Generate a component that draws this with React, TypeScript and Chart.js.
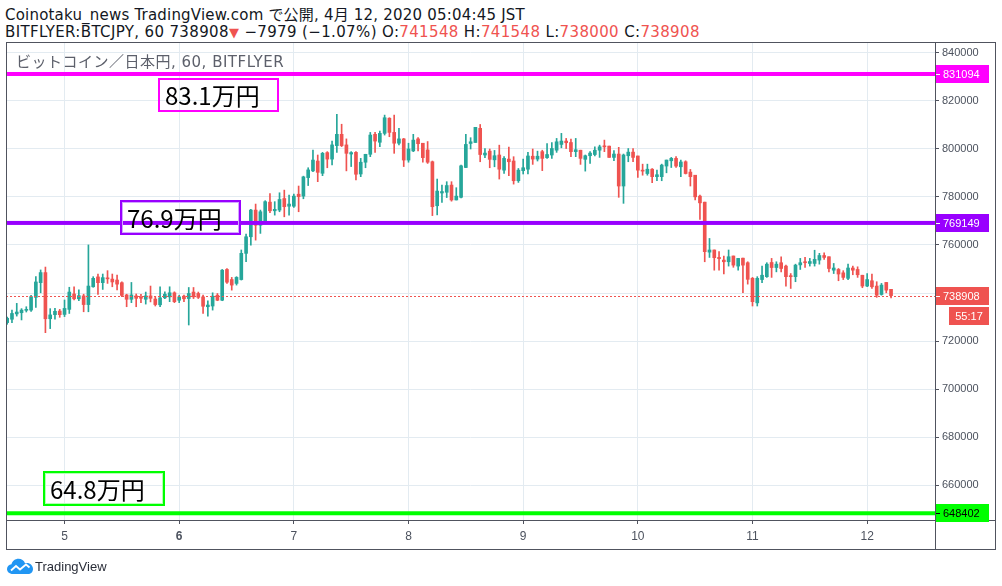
import React, { useEffect, useRef } from "react";
import { Chart, registerables } from "chart.js";

Chart.register(...registerables);

// Hourly candles, prices in thousands of JPY. First candle: Apr 4 12:00 JST (hour -12 relative to Apr 5 00:00).
const startHour = -12;

const opens = [
  727.7, 729.1, 731.3, 731.8, 732.8, 732.9, 738.2, 744.3, 748.5, 729.3, 731.0, 732.5,
  731.1, 733.2, 739.6, 737.6, 738.8, 735.2, 742.6, 746.7, 744.3, 746.2, 745.8, 745.4,
  744.3, 739.2, 737.4, 738.8, 738.2, 737.4, 738.8, 737.5, 735.1, 738.0, 738.4, 740.1,
  737.0, 738.7, 737.7, 740.4, 739.8, 738.4, 734.3, 734.6, 739.1, 737.0, 749.8, 745.6,
  744.0, 745.6, 756.5, 763.4, 774.5, 768.2, 769.2, 777.8, 774.2, 774.5, 779.3, 776.1,
  776.1, 781.1, 780.3, 788.0, 790.8, 794.9, 789.8, 798.4, 795.7, 801.3, 806.0, 801.6,
  797.8, 798.5, 789.5, 794.4, 797.7, 806.0, 802.7, 806.4, 812.7, 806.8, 802.3, 804.1,
  795.3, 799.1, 804.1, 802.3, 799.5, 794.6, 776.3, 781.6, 781.9, 784.9, 778.7, 779.8,
  792.2, 802.2, 802.6, 808.5, 797.4, 799.0, 795.4, 797.4, 791.1, 795.7, 794.9, 786.7,
  790.9, 791.5, 796.9, 795.7, 798.8, 796.3, 797.4, 799.4, 801.8, 803.2, 802.6, 798.8,
  799.4, 795.6, 797.1, 797.6, 799.4, 801.1, 801.1, 796.4, 797.8, 784.5, 797.1, 798.6,
  797.0, 791.1, 789.7, 791.5, 788.4, 788.4, 792.8, 795.0, 796.0, 792.5, 794.6, 790.3,
  789.0, 780.3, 777.8, 757.0, 757.9, 754.8, 753.7, 753.0, 755.4, 751.2, 754.5, 752.6,
  746.1, 735.9, 745.6, 746.8, 752.7, 750.6, 752.6, 751.2, 747.0, 746.8, 751.7, 752.9,
  752.3, 752.3, 753.7, 755.6, 755.1, 749.5, 749.8, 748.4, 746.1, 750.4, 749.8, 747.4,
  742.9, 745.1, 742.9, 739.4, 744.4, 741.548,
];

const highs = [
  730.0, 732.9, 735.7, 733.5, 734.3, 739.0, 746.8, 749.6, 750.8, 733.5, 733.6, 733.2,
  737.1, 742.4, 742.6, 741.3, 739.5, 760.0, 746.8, 747.9, 747.9, 749.3, 747.9, 747.5,
  744.7, 739.5, 744.4, 739.6, 739.5, 740.4, 742.9, 738.5, 742.6, 740.5, 742.6, 740.5,
  739.1, 739.1, 742.3, 742.3, 740.4, 739.1, 736.8, 740.1, 739.8, 749.8, 750.2, 746.5,
  746.8, 757.9, 764.5, 774.8, 777.0, 774.5, 778.4, 781.4, 778.0, 781.7, 782.8, 780.7,
  781.1, 784.5, 788.6, 792.1, 799.5, 797.4, 798.5, 798.8, 803.2, 814.3, 810.2, 804.1,
  798.8, 798.8, 796.0, 797.7, 806.8, 806.8, 807.4, 814.0, 812.9, 814.0, 808.5, 804.3,
  802.3, 806.0, 804.6, 802.3, 803.0, 794.9, 787.4, 784.9, 786.3, 786.3, 783.8, 793.2,
  806.0, 804.6, 808.9, 810.1, 800.1, 799.9, 799.3, 801.5, 796.7, 800.7, 796.7, 791.8,
  795.7, 798.5, 799.9, 799.0, 799.4, 802.2, 802.6, 804.3, 806.4, 804.3, 804.0, 804.3,
  799.4, 797.4, 798.8, 800.8, 801.5, 803.6, 801.1, 799.2, 800.6, 797.8, 800.1, 800.1,
  797.0, 793.6, 793.6, 791.8, 791.1, 793.6, 795.3, 796.4, 796.7, 795.3, 795.0, 791.4,
  789.0, 780.7, 777.8, 762.7, 757.9, 757.2, 755.4, 757.9, 755.4, 754.4, 754.5, 753.0,
  746.5, 746.8, 751.2, 752.6, 754.4, 753.0, 755.1, 751.6, 748.1, 752.0, 754.4, 754.8,
  754.4, 757.8, 756.5, 756.7, 755.1, 752.3, 750.2, 749.3, 752.0, 751.2, 750.9, 747.4,
  748.1, 747.9, 744.7, 744.0, 744.4, 741.548,
];

const lows = [
  727.0, 727.7, 730.4, 728.8, 732.1, 732.4, 734.0, 740.1, 723.5, 725.2, 729.1, 729.9,
  730.2, 731.5, 737.1, 736.8, 732.2, 732.2, 742.4, 739.4, 741.5, 744.0, 742.6, 741.3,
  738.5, 734.3, 736.0, 734.3, 736.0, 735.4, 736.3, 734.6, 734.3, 737.7, 736.4, 736.0,
  736.0, 736.4, 726.7, 737.7, 737.7, 731.5, 730.4, 732.9, 736.8, 736.8, 744.0, 741.2,
  743.3, 745.4, 753.0, 759.9, 762.0, 764.8, 768.9, 773.4, 772.4, 773.8, 771.7, 772.4,
  775.6, 773.8, 779.2, 784.7, 790.5, 786.3, 788.8, 792.1, 793.3, 798.5, 800.9, 790.8,
  792.6, 787.0, 788.4, 792.1, 796.7, 798.5, 800.9, 805.7, 805.0, 798.1, 801.6, 792.6,
  794.4, 798.8, 799.1, 794.4, 793.9, 772.2, 772.5, 777.7, 779.7, 778.2, 778.7, 779.6,
  792.1, 799.9, 802.6, 794.6, 796.3, 792.1, 792.5, 787.4, 789.7, 788.8, 785.3, 786.0,
  789.5, 789.5, 793.5, 794.9, 790.9, 796.0, 796.0, 798.5, 800.4, 800.1, 796.7, 796.7,
  793.5, 790.7, 793.9, 797.0, 796.4, 798.8, 796.4, 795.0, 779.8, 777.3, 794.6, 794.6,
  788.1, 789.0, 789.0, 785.9, 786.7, 786.7, 790.0, 792.2, 792.2, 788.4, 789.5, 784.5,
  778.7, 770.6, 753.0, 754.8, 749.5, 749.5, 747.9, 751.2, 750.7, 749.5, 740.1, 743.7,
  734.6, 734.6, 744.3, 746.5, 746.5, 748.8, 748.8, 742.9, 741.9, 744.7, 749.8, 750.6,
  751.2, 751.2, 752.0, 754.0, 748.8, 748.1, 745.1, 745.6, 745.6, 747.6, 746.5, 742.2,
  742.6, 741.9, 738.2, 739.1, 740.1, 738.0,
];

const closes = [
  729.5, 731.5, 732.1, 732.9, 733.2, 738.5, 744.6, 748.5, 729.3, 730.9, 732.4, 731.0,
  733.6, 740.4, 737.6, 738.9, 735.2, 742.9, 746.1, 744.3, 746.4, 745.9, 744.6, 743.7,
  739.0, 737.4, 739.2, 737.8, 737.8, 738.8, 737.8, 735.2, 738.0, 739.5, 740.1, 736.4,
  738.4, 737.6, 739.8, 738.4, 738.2, 734.5, 735.0, 738.7, 737.0, 749.5, 744.5, 743.3,
  746.5, 756.5, 763.4, 774.5, 768.2, 773.8, 778.0, 774.2, 774.8, 778.9, 775.9, 777.0,
  780.3, 780.1, 788.3, 791.2, 795.3, 790.2, 798.1, 795.7, 801.6, 806.0, 801.3, 798.1,
  798.4, 789.4, 794.4, 797.7, 805.7, 803.2, 806.4, 812.9, 806.8, 802.3, 804.1, 795.3,
  799.9, 803.6, 802.1, 796.3, 794.4, 775.9, 782.4, 782.2, 784.7, 778.7, 780.3, 792.9,
  801.8, 802.9, 808.9, 797.6, 798.2, 795.6, 797.1, 791.5, 796.0, 794.6, 786.7, 791.1,
  792.1, 797.0, 795.7, 796.9, 796.0, 797.6, 800.1, 802.9, 803.2, 802.5, 798.8, 799.6,
  796.0, 797.1, 798.2, 799.4, 800.8, 800.8, 796.4, 797.8, 784.5, 797.4, 798.6, 796.4,
  791.1, 790.7, 791.5, 788.4, 789.2, 793.2, 795.3, 796.0, 792.8, 794.5, 789.7, 788.4,
  780.0, 777.5, 757.2, 757.9, 754.7, 754.3, 753.0, 755.1, 751.6, 754.4, 751.6, 745.7,
  736.4, 746.1, 747.4, 752.0, 750.6, 752.0, 750.2, 746.8, 746.8, 751.6, 752.6, 752.6,
  753.1, 754.0, 755.6, 754.8, 750.2, 750.4, 747.9, 746.5, 750.4, 749.5, 747.6, 742.9,
  745.6, 742.6, 739.1, 743.3, 741.2, 738.908,
];

const dayTickHours = [0, 24, 48, 72, 96, 120, 144, 168];
const dayTickLabels = ["5", "6", "7", "8", "9", "10", "11", "12"];
const boldDayLabel = "6";
const priceTicks = [660, 680, 700, 720, 740, 760, 780, 800, 820, 840];

const levelValues = [831.094, 769.149, 648.402];
const levelLabels = ["831094", "769149", "648402"];
const levelColors = ["#ff00ff", "#9900ff", "#00ff00"];
const levelTextColors = ["#ffffff", "#ffffff", "#000000"];
const lastPrice = 738.908;
const lastPriceLabel = "738908";
const countdownLabel = "55:17";

const UP = "#26a69a";
const DOWN = "#ef5350";
const FRAME = "#50535e";
const GRID = "#e3ebf1";
const AXIS_TEXT = "#4c525e";
const AXIS_FONT = '"Liberation Sans", Arial, sans-serif';

const overlayPlugin = {
  id: "tvOverlay",
  afterDatasetsDraw(chart: any) {
    const { ctx, chartArea: a } = chart;
    const y = chart.scales.y;
    ctx.save();
    ctx.beginPath();
    ctx.rect(a.left, a.top, a.right - a.left, a.bottom - a.top);
    ctx.clip();
    const py = Math.round(y.getPixelForValue(lastPrice)) + 0.5;
    ctx.strokeStyle = DOWN;
    ctx.lineWidth = 1;
    ctx.setLineDash([2, 2]);
    ctx.beginPath();
    ctx.moveTo(a.left, py);
    ctx.lineTo(a.right, py);
    ctx.stroke();
    ctx.setLineDash([]);
    levelValues.forEach((v, i) => {
      const yy = y.getPixelForValue(v);
      ctx.fillStyle = levelColors[i];
      ctx.fillRect(a.left, yy - 2, a.right - a.left, 4);
    });
    ctx.restore();
  },
  afterDraw(chart: any) {
    const { ctx, chartArea: a, width, height } = chart;
    const y = chart.scales.y;
    ctx.save();
    ctx.strokeStyle = FRAME;
    ctx.lineWidth = 1;
    ctx.beginPath();
    ctx.moveTo(0.5, 0); ctx.lineTo(0.5, height);
    ctx.moveTo(width - 0.5, 0); ctx.lineTo(width - 0.5, height);
    ctx.moveTo(0, 0.5); ctx.lineTo(width, 0.5);
    ctx.moveTo(0, height - 0.5); ctx.lineTo(width, height - 0.5);
    ctx.moveTo(Math.round(a.right) + 0.5, 0); ctx.lineTo(Math.round(a.right) + 0.5, height);
    ctx.moveTo(0, Math.round(a.bottom) + 0.5); ctx.lineTo(width, Math.round(a.bottom) + 0.5);
    ctx.stroke();

    const boxLeft = Math.round(a.right) + 1;
    const boxW = 53;
    ctx.font = "11px " + AXIS_FONT;
    ctx.textBaseline = "middle";
    ctx.textAlign = "left";
    const drawTag = (v: number, label: string, bg: string, fg: string) => {
      const yy = Math.round(y.getPixelForValue(v));
      ctx.fillStyle = bg;
      ctx.fillRect(boxLeft, yy - 9, boxW, 18);
      ctx.fillStyle = fg;
      ctx.fillRect(boxLeft, yy, 4, 1);
      ctx.fillText(label, boxLeft + 7, yy + 1);
      return yy;
    };
    levelValues.forEach((v, i) => drawTag(v, levelLabels[i], levelColors[i], levelTextColors[i]));
    const py = drawTag(lastPrice, lastPriceLabel, DOWN, "#ffffff");
    ctx.fillStyle = DOWN;
    ctx.fillRect(boxLeft + 13, py + 11, boxW - 13, 18);
    ctx.fillStyle = "#ffffff";
    ctx.textAlign = "center";
    ctx.fillText(countdownLabel, boxLeft + 13 + (boxW - 13) / 2, py + 21);
    ctx.restore();
  },
};

export default function App() {
  const ref = useRef<HTMLCanvasElement>(null);

  useEffect(() => {
    const bodies = opens.map((o, i) => ({ x: startHour + i, y: [o, closes[i]] }));
    const wicks = lows.map((l, i) => ({ x: startHour + i, y: [l, highs[i]] }));
    const colors = opens.map((o, i) => (closes[i] >= o ? UP : DOWN));

    const chart = new Chart(ref.current as HTMLCanvasElement, {
      type: "bar",
      data: {
        datasets: [
          {
            data: bodies as any,
            backgroundColor: colors,
            barThickness: 3,
            grouped: false,
            minBarLength: 1,
            borderWidth: 0,
          } as any,
          {
            data: wicks as any,
            backgroundColor: colors,
            barThickness: 1,
            grouped: false,
            minBarLength: 1,
            borderWidth: 0,
          } as any,
        ],
      },
      options: {
        animation: false,
        responsive: true,
        maintainAspectRatio: false,
        events: [],
        layout: { padding: 0 },
        plugins: { legend: { display: false }, tooltip: { enabled: false } },
        scales: {
          x: {
            type: "linear",
            min: -12.25,
            max: 182.2,
            offset: false,
            afterBuildTicks: (scale: any) => {
              scale.ticks = dayTickHours.map((v) => ({ value: v }));
            },
            afterFit: (scale: any) => {
              scale.height = 30;
              scale.paddingLeft = 0;
              scale.paddingRight = 0;
            },
            grid: { color: GRID, tickColor: FRAME, tickLength: 4, drawOnChartArea: true, offset: false },
            border: { display: false },
            ticks: {
              autoSkip: false,
              maxRotation: 0,
              padding: 5,
              color: AXIS_TEXT,
              font: (ctx: any) => ({
                family: AXIS_FONT,
                size: 12,
                weight: dayTickLabels[ctx.index] === boldDayLabel ? "bold" : "normal",
              }),
              callback: (_v: any, i: number) => dayTickLabels[i],
            },
          },
          y: {
            type: "linear",
            position: "right",
            min: 645.6,
            max: 844.4,
            afterBuildTicks: (scale: any) => {
              scale.ticks = priceTicks.map((v) => ({ value: v }));
            },
            afterFit: (scale: any) => {
              scale.width = 61;
              scale.paddingTop = 0;
              scale.paddingBottom = 0;
            },
            grid: { color: GRID, tickColor: FRAME, tickLength: 4 },
            border: { display: false },
            ticks: {
              padding: 3,
              color: AXIS_TEXT,
              font: { family: AXIS_FONT, size: 11 },
              callback: (v: any) => String(Math.round(Number(v) * 1000)),
            },
          },
        },
      },
      plugins: [overlayPlugin],
    } as any);
    return () => chart.destroy();
  }, []);

  const headFont = '"DejaVu Sans", "Noto Sans CJK JP", sans-serif';
  const red = "#ef5350";
  const boxText: React.CSSProperties = {
    position: "absolute",
    boxSizing: "border-box",
    display: "flex",
    alignItems: "center",
    paddingLeft: 5,
    fontFamily: '"Noto Sans CJK JP", sans-serif',
    fontSize: 24,
    color: "#000",
    lineHeight: "30px",
    whiteSpace: "nowrap",
  };

  return (
    <div
      style={{
        position: "absolute",
        left: 0,
        top: 0,
        width: 1002,
        height: 586,
        background: "#ffffff",
        overflow: "hidden",
        fontFamily: headFont,
        color: "#131722",
      }}
    >
      <div
        style={{
          position: "absolute",
          left: 5,
          top: 7,
          fontSize: 15,
          lineHeight: "17px",
          letterSpacing: 0.2,
          whiteSpace: "pre",
        }}
      >
        Coinotaku_news TradingView.com で公開, 4月 12, 2020 05:04:45 JST
      </div>
      <div
        style={{
          position: "absolute",
          left: 5,
          top: 24,
          fontSize: 15,
          lineHeight: "17px",
          letterSpacing: 0.36,
          whiteSpace: "pre",
        }}
      >
        BITFLYER:BTCJPY, 60 738908<span style={{ color: red, fontSize: 13 }}>▼</span> −7979 (−1.07%) O:
        <span style={{ color: red }}>741548</span> H:<span style={{ color: red }}>741548</span> L:
        <span style={{ color: red }}>738000</span> C:<span style={{ color: red }}>738908</span>
      </div>

      <div style={{ position: "absolute", left: 6, top: 42, width: 990, height: 508 }}>
        <canvas ref={ref} />
      </div>

      <div
        style={{
          position: "absolute",
          left: 16,
          top: 54,
          fontSize: 15,
          lineHeight: "17px",
          letterSpacing: 0.5,
          color: "#5d606b",
          whiteSpace: "pre",
        }}
      >
        ビットコイン／日本円, 60, BITFLYER
      </div>

      <div style={{ ...boxText, left: 158, top: 78, width: 121, height: 34, border: "2px solid #ff00ff" }}>83.1万円</div>
      <div
        style={{
          ...boxText,
          left: 120,
          top: 200,
          width: 121,
          height: 35,
          border: "2px solid #9900ff",
          boxShadow: "inset 0 0 0 1px #d2a6ff",
        }}
      >
        76.9万円
      </div>
      <div
        style={{
          ...boxText,
          left: 43,
          top: 471,
          width: 122,
          height: 35,
          border: "2px solid #00ff00",
          boxShadow: "inset 0 0 0 1px #b6ffb6",
        }}
      >
        64.8万円
      </div>

      <div style={{ position: "absolute", left: 7, top: 558, display: "flex", alignItems: "center" }}>
        <svg width="26" height="17" viewBox="0 0 26 17">
          <path
            d="M6 16 C2 16 0 13.5 0 11 C0 8.5 2 6.5 4.5 6.3 C5.3 3 8.2 0.8 11.5 0.8 C14.5 0.8 17 2.6 18 5.2 C18.7 5 19.3 4.9 20 4.9 C23.3 4.9 26 7.6 26 10.9 C26 13.8 23.8 16 21 16 Z"
            fill="#2196f3"
          />
          <path d="M4 12.5 L9 8 L13 11.5 L19 6.5 L22.5 9.5" stroke="#ffffff" strokeWidth="1.8" fill="none" />
        </svg>
        <span style={{ marginLeft: 2, fontSize: 13, color: "#2a2e39", fontFamily: '"Liberation Sans", Arial, sans-serif' }}>
          TradingView
        </span>
      </div>
    </div>
  );
}
